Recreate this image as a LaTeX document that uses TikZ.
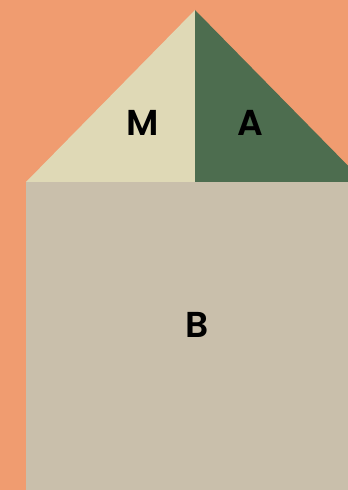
\documentclass[tikz,border=0pt]{standalone}
\usepackage{fontspec}
\newfontfamily\lblfont{Poppins SemiBold}
\definecolor{bgor}{HTML}{F09C70}
\definecolor{mbeige}{HTML}{DFD9B6}
\definecolor{agreen}{HTML}{4D6D4F}
\definecolor{bgrey}{HTML}{C9BFAB}
\begin{document}
\begin{tikzpicture}[x=1pt,y=1pt,
  lbl/.style={font=\lblfont\fontsize{36}{36}\selectfont, text=black, inner sep=0pt, anchor=center}]
\fill[bgor] (0,0) rectangle (348,490);
\useasboundingbox (0,0) rectangle (348,490);
\begin{scope}
\clip (0,0) rectangle (348,490);
\fill[mbeige] (26,308) -- (195,480) -- (195,308) -- cycle;
\fill[agreen] (195,480) -- (364,308) -- (195,308) -- cycle;
\fill[bgrey] (26,0) rectangle (348,308);
\end{scope}
\node[lbl] (m) at (143,367) {M};
\node[lbl] (a) at (250,367) {A};
\node[lbl] (b) at (197,165) {B};
\end{tikzpicture}
\end{document}
